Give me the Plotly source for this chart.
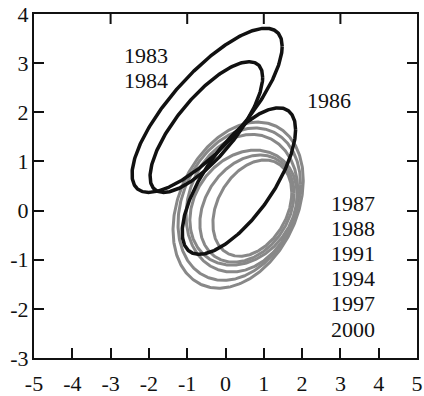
import numpy as np
import plotly.graph_objects as go

# Ellipse parameters (data units):
# centre x, centre y, half-width in x, half-height in y, x/y coupling (tilt)
black_years = ["1983", "1984", "1986"]
black_cx = [-0.48, -0.50, 0.35]
black_cy = [2.04, 1.70, 0.60]
black_sx = [1.96, 1.47, 1.48]
black_sy = [1.67, 1.33, 1.49]
black_rho = [0.78, 0.76, 0.70]

gray_years = ["1987", "1988", "1991", "1994", "1997", "2000"]
gray_cx = [0.33, 0.36, 0.43, 0.47, 0.56, 0.70]
gray_cy = [0.11, 0.13, 0.15, 0.06, 0.04, 0.05]
gray_sx = [1.70, 1.60, 1.46, 1.40, 1.23, 1.03]
gray_sy = [1.69, 1.55, 1.40, 1.17, 1.09, 0.98]
gray_rho = [0.30, 0.26, 0.18, 0.22, 0.28, 0.32]

x_ticks = [-5, -4, -3, -2, -1, 0, 1, 2, 3, 4, 5]
y_ticks = [-3, -2, -1, 0, 1, 2, 3, 4]
top_ticks = [-3, -1, 1, 3]

# label positions (data units)
label_text = ["1983", "1984", "1986", "1987", "1988", "1991", "1994", "1997", "2000"]
label_x = [-2.08, -2.08, 2.70, 3.33, 3.33, 3.33, 3.33, 3.33, 3.33]
label_y = [3.16, 2.64, 2.23, 0.15, -0.36, -0.87, -1.38, -1.89, -2.42]

t = np.linspace(0, 2 * np.pi, 361)


def ellipse(cx, cy, sx, sy, rho):
    d = np.arccos(rho)
    return cx + sx * np.cos(t), cy + sy * np.cos(t - d)


fig = go.Figure()
for i in range(len(gray_years)):
    ex, ey = ellipse(gray_cx[i], gray_cy[i], gray_sx[i], gray_sy[i], gray_rho[i])
    fig.add_trace(go.Scatter(x=ex, y=ey, mode="lines", name=gray_years[i],
                             line=dict(color="#888888", width=3), hoverinfo="skip"))
for i in range(len(black_years)):
    ex, ey = ellipse(black_cx[i], black_cy[i], black_sx[i], black_sy[i], black_rho[i])
    fig.add_trace(go.Scatter(x=ex, y=ey, mode="lines", name=black_years[i],
                             line=dict(color="#111111", width=3.5), hoverinfo="skip"))

font = dict(family="Liberation Serif, Times New Roman, serif", size=22, color="#111111")

for s, xx, yy in zip(label_text, label_x, label_y):
    fig.add_annotation(x=xx, y=yy, text=s, showarrow=False, font=font,
                       xanchor="center", yanchor="middle")

# inward ticks on the top edge (odd values only, as in the original)
for v in top_ticks:
    fig.add_shape(type="line", xref="x", yref="paper", x0=v, x1=v,
                  y0=1, y1=1 - 10 / 344, line=dict(color="#111111", width=2))

fig.update_layout(
    width=424, height=396,
    margin=dict(l=34, r=7, t=14, b=38),
    paper_bgcolor="white", plot_bgcolor="white",
    showlegend=False,
    font=font,
    xaxis=dict(range=[-5, 5], tickvals=x_ticks,
               ticktext=[str(v) for v in x_ticks],
               ticks="inside", ticklen=10, tickwidth=2, tickcolor="#111111",
               showline=True, linewidth=2, linecolor="#111111", mirror=True,
               showgrid=False, zeroline=False, tickfont=font,
               automargin=False, ticklabeloverflow="allow", ticklabelstandoff=5),
    yaxis=dict(range=[-3, 4], tickvals=y_ticks,
               ticktext=[str(v) for v in y_ticks],
               ticks="inside", ticklen=10, tickwidth=2, tickcolor="#111111",
               showline=True, linewidth=2, linecolor="#111111", mirror="ticks",
               showgrid=False, zeroline=False, tickfont=font,
               automargin=False, ticklabeloverflow="allow", ticklabelstandoff=-1),
)

fig.write_html("out.html", config={"displayModeBar": False},
               post_script="document.body.style.margin='0';document.body.style.overflow='hidden';")
